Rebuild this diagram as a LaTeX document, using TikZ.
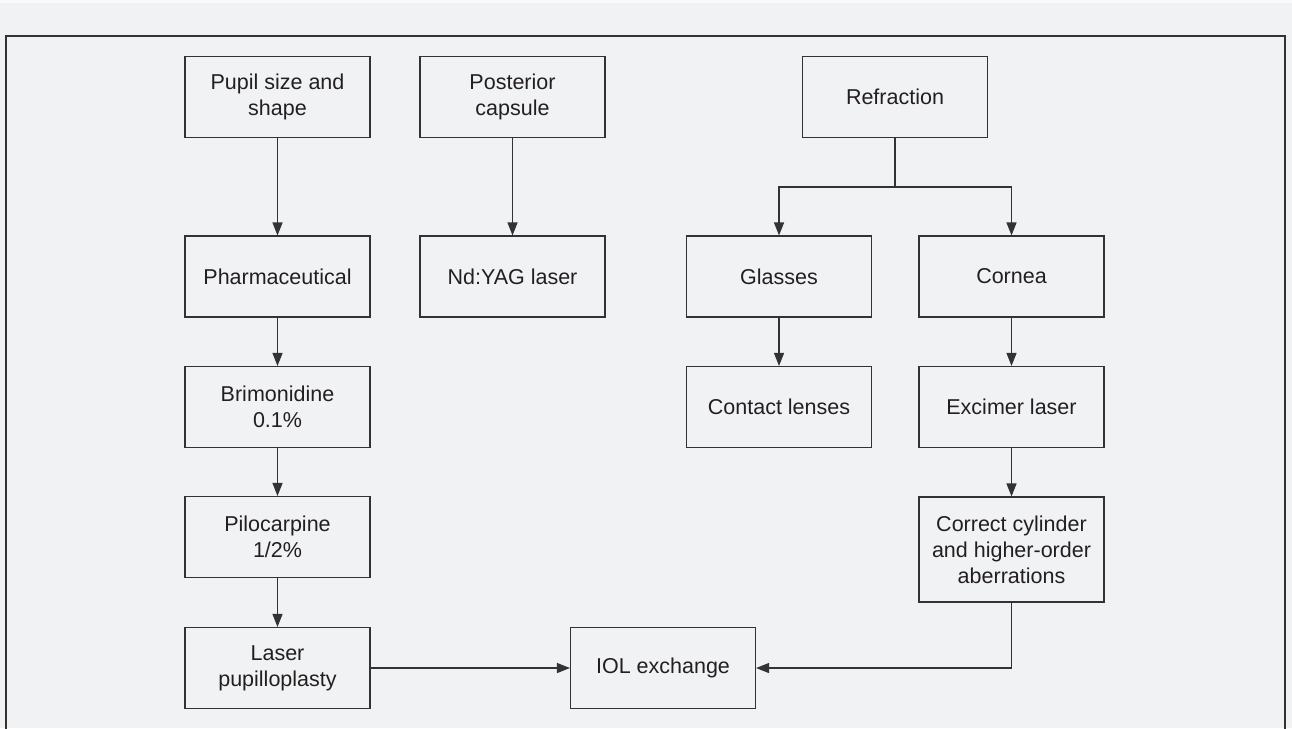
\documentclass[tikz,border=0pt]{standalone}
\usepackage{fontspec}
\setmainfont{Liberation Sans}
\usetikzlibrary{arrows.meta}
\definecolor{bgc}{HTML}{F1F2F4}
\definecolor{inkc}{HTML}{231F20}
\definecolor{linec}{HTML}{333333}
\tikzset{
  box/.style={draw=linec, line width=1.1pt, minimum width=185pt, minimum height=81pt,
    align=center, inner sep=2pt, text=inkc, font=\fontsize{21.5}{26}\selectfont},
  arr/.style={draw=linec, line width=1.2pt, -{Triangle[length=13pt,width=10pt]}},
  conn/.style={draw=linec, line width=1.2pt}
}
\begin{document}
\begin{tikzpicture}[x=1pt,y=-1pt]
\useasboundingbox (0,0) rectangle (1292,728);
\fill[bgc] (0,0) rectangle (1292,728);
\fill[white!60!bgc] (0,0) rectangle (1292,3);
\draw[linec, line width=1.1pt] (6,740) -- (6,36) -- (1285,36) -- (1285,740);

\node[box] (pupil) at (277.5,97) {Pupil size and\\shape};
\node[box] (post) at (512.5,97) {Posterior\\capsule};
\node[box] (refr) at (895,97) {Refraction};
\node[box] (pharm) at (277.5,276.5) {Pharmaceutical};
\node[box] (ndyag) at (512.5,276.5) {Nd:YAG laser};
\node[box] (glasses) at (779,276.5) {Glasses};
\node[box] (cornea) at (1011.5,276.5) {Cornea};
\node[box] (brim) at (277.5,407) {Brimonidine\\0.1\%};
\node[box] (contact) at (779,407) {Contact lenses};
\node[box] (excimer) at (1011.5,407) {Excimer laser};
\node[box] (pilo) at (277.5,537) {Pilocarpine\\1/2\%};
\node[box, minimum height=105pt] (correct) at (1011.5,549.5) {Correct cylinder\\and higher-order\\aberrations};
\node[box] (laser) at (277.5,668) {Laser\\pupilloplasty};
\node[box] (iol) at (663,668) {IOL exchange};

\coordinate (rj) at (895,187);

\draw[arr] (pupil) -- (pharm);
\draw[arr] (post) -- (ndyag);
\draw[conn] (refr.south) -- (rj);
\draw[arr] (rj) -| (glasses.north);
\draw[arr] (rj) -| (cornea.north);
\draw[arr] (glasses) -- (contact);
\draw[arr] (cornea) -- (excimer);
\draw[arr] (excimer) -- (correct);
\draw[arr] (pharm) -- (brim);
\draw[arr] (brim) -- (pilo);
\draw[arr] (pilo) -- (laser);
\draw[arr] (laser) -- (iol);
\draw[arr] (correct.south) |- (iol.east);
\end{tikzpicture}
\end{document}
